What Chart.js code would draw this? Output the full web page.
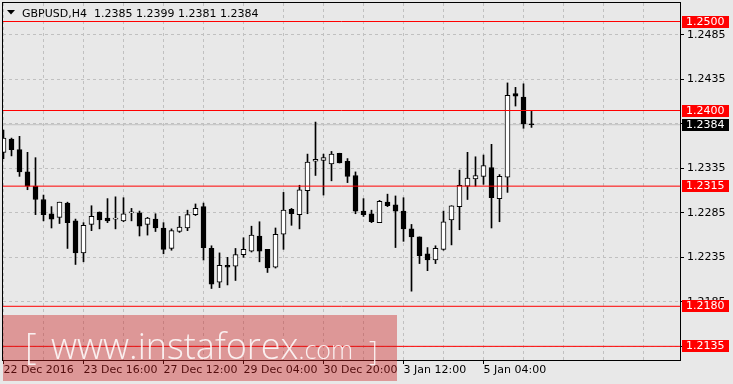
<!DOCTYPE html>
<html>
<head>
<meta charset="utf-8">
<script src="https://cdn.jsdelivr.net/npm/chart.js@4.4.0/dist/chart.umd.min.js"></script>
<style>
  html, body { margin: 0; padding: 0; background: #e8e8e8; }
  #wrap { width: 733px; height: 384px; }
</style>
</head>
<body>
<div id="wrap"><canvas id="chart" width="733" height="384"></canvas></div>
<script>
// GBPUSD H4 candles
const opens = [
  1.2353, 1.2368, 1.2356, 1.2331, 1.2315, 1.2300, 1.2284, 1.2280, 1.2296, 1.2276,
  1.2240, 1.2272, 1.2286, 1.2279, 1.2278, 1.2276, 1.2285, 1.2285, 1.2272, 1.2278,
  1.2268, 1.2245, 1.2264, 1.2268, 1.2283, 1.2292, 1.2245, 1.2207, 1.2226, 1.2225,
  1.2238, 1.2242, 1.2259, 1.2244, 1.2224, 1.2261, 1.2289, 1.2283, 1.2310, 1.2343,
  1.2344, 1.2340, 1.2352, 1.2343, 1.2327, 1.2287, 1.2284, 1.2274, 1.2297, 1.2294,
  1.2287, 1.2267, 1.2258, 1.2239, 1.2232, 1.2244, 1.2277, 1.2292, 1.2315, 1.2323,
  1.2326, 1.2336, 1.2301, 1.2325, 1.2419, 1.2415, 1.2385
];
const highs = [
  1.2378, 1.2369, 1.2371, 1.2353, 1.2347, 1.2305, 1.2292, 1.2297, 1.2297, 1.2278,
  1.2274, 1.2293, 1.2286, 1.2301, 1.2303, 1.2302, 1.2290, 1.2287, 1.2280, 1.2284,
  1.2274, 1.2267, 1.2281, 1.2288, 1.2295, 1.2296, 1.2248, 1.2240, 1.2235, 1.2245,
  1.2257, 1.2270, 1.2275, 1.2244, 1.2268, 1.2308, 1.2290, 1.2316, 1.2351, 1.2387,
  1.2351, 1.2354, 1.2352, 1.2346, 1.2331, 1.2301, 1.2288, 1.2299, 1.2306, 1.2304,
  1.2302, 1.2272, 1.2258, 1.2246, 1.2248, 1.2287, 1.2293, 1.2333, 1.2353, 1.2348,
  1.2350, 1.2362, 1.2328, 1.2431, 1.2426, 1.2430, 1.2399
];
const lows = [
  1.2346, 1.2349, 1.2326, 1.2311, 1.2283, 1.2276, 1.2268, 1.2273, 1.2245, 1.2227,
  1.2230, 1.2265, 1.2267, 1.2274, 1.2267, 1.2275, 1.2276, 1.2259, 1.2260, 1.2264,
  1.2239, 1.2243, 1.2263, 1.2265, 1.2282, 1.2232, 1.2200, 1.2201, 1.2204, 1.2209,
  1.2235, 1.2241, 1.2230, 1.2218, 1.2223, 1.2244, 1.2271, 1.2267, 1.2284, 1.2327,
  1.2305, 1.2321, 1.2341, 1.2319, 1.2284, 1.2281, 1.2274, 1.2274, 1.2292, 1.2246,
  1.2253, 1.2197, 1.2228, 1.2220, 1.2228, 1.2243, 1.2249, 1.2266, 1.2300, 1.2315,
  1.2317, 1.2268, 1.2275, 1.2308, 1.2405, 1.2380, 1.2381
];
const closes = [
  1.2369, 1.2356, 1.2331, 1.2315, 1.2300, 1.2283, 1.2278, 1.2297, 1.2274, 1.2240,
  1.2271, 1.2281, 1.2277, 1.2276, 1.2278, 1.2284, 1.2286, 1.2270, 1.2279, 1.2268,
  1.2244, 1.2265, 1.2269, 1.2283, 1.2290, 1.2246, 1.2205, 1.2226, 1.2224, 1.2238,
  1.2244, 1.2260, 1.2242, 1.2223, 1.2261, 1.2288, 1.2284, 1.2311, 1.2342, 1.2345,
  1.2347, 1.2351, 1.2341, 1.2326, 1.2287, 1.2283, 1.2275, 1.2298, 1.2293, 1.2287,
  1.2267, 1.2258, 1.2237, 1.2232, 1.2245, 1.2275, 1.2293, 1.2316, 1.2324, 1.2327,
  1.2338, 1.2302, 1.2326, 1.2417, 1.2416, 1.2385, 1.2384
];

const timeLabels = ['22 Dec 2016', '23 Dec 16:00', '27 Dec 12:00', '29 Dec 04:00',
                    '30 Dec 20:00', '3 Jan 12:00', '5 Jan 04:00'];
const labelStep = 10;   // one time label every 10 bars
const gridStep = 5;     // vertical grid every 5 bars
const priceTicks = [1.2135, 1.2185, 1.2235, 1.2285, 1.2335, 1.2385, 1.2435, 1.2485];
const levels = [1.2500, 1.2400, 1.2315, 1.2180, 1.2135];
const bidPrice = 1.2384;
const symbol = 'GBPUSD,H4';
const lastBar = [1.2385, 1.2399, 1.2381, 1.2384];

const X_MIN = -0.0625, X_MAX = 84.5625;
const Y_MIN = 1.2119663, Y_MAX = 1.2520787;
const FONT = '"DejaVu Sans", sans-serif';

const idx = opens.map((_, i) => i);
const bodies = idx.map(i => ({ x: i, y: [opens[i], closes[i]] }));
const wicks = idx.map(i => ({ x: i, y: [lows[i], highs[i]] }));
const bodyFill = idx.map(i => closes[i] >= opens[i] ? '#ffffff' : '#000000');
const xGrid = [];
for (let v = 0; v <= 80; v += gridStep) xGrid.push(v);

function hline(value, color, order) {
  return {
    type: 'line', data: [{ x: X_MIN, y: value }, { x: X_MAX, y: value }],
    borderColor: color, borderWidth: 1, pointRadius: 0, fill: false, order: order
  };
}

const datasets = [
  { type: 'bar', data: bodies, backgroundColor: bodyFill, borderColor: '#000000',
    borderWidth: 1, borderSkipped: false, grouped: false, barThickness: 5,
    maxBarThickness: 5, minBarLength: 1, order: 1 },
  { type: 'bar', data: wicks, backgroundColor: '#000000', borderWidth: 0,
    grouped: false, barThickness: 1, maxBarThickness: 1, order: 2 },
  hline(bidPrice, '#c0c0c0', 3)
];
levels.forEach(v => datasets.push(hline(v, '#ff0000', 0)));

const decor = {
  id: 'decor',
  beforeDraw(chart) {
    const ctx = chart.ctx;
    ctx.save();
    ctx.fillStyle = '#e8e8e8';
    ctx.fillRect(0, 0, chart.width, chart.height);
    ctx.restore();
  },
  afterDraw(chart) {
    const { ctx, chartArea: a, scales: { y } } = chart;
    ctx.save();
    // frame
    ctx.strokeStyle = '#000';
    ctx.lineWidth = 1;
    ctx.strokeRect(a.left - 0.5, a.top - 0.5, a.right - a.left + 1, a.bottom - a.top + 1);

    // price labels on the right
    ctx.font = '11px ' + FONT;
    ctx.textBaseline = 'middle';
    ctx.textAlign = 'left';
    const tag = (v, bg) => {
      const py = Math.round(y.getPixelForValue(v));
      ctx.fillStyle = bg;
      ctx.fillRect(a.right + 2, py - 6, 47, 12);
      ctx.fillStyle = '#ffffff';
      ctx.fillText(v.toFixed(4), a.right + 6, py + 0.5);
    };
    levels.forEach(v => tag(v, '#ff0000'));
    tag(bidPrice, '#000000');

    // header
    ctx.fillStyle = '#000';
    ctx.beginPath();
    ctx.moveTo(7, 10); ctx.lineTo(15, 10); ctx.lineTo(11, 14.5); ctx.closePath();
    ctx.fill();
    ctx.textBaseline = 'alphabetic';
    ctx.fillText(symbol + '  ' + lastBar.map(v => v.toFixed(4)).join(' '), 22, 16.5);

    // watermark
    ctx.fillStyle = 'rgba(205,30,30,0.4)';
    ctx.fillRect(3, 315, 394, 66);
    ctx.fillStyle = 'rgba(255,255,255,0.85)';
    ctx.font = '300 36px "Open Sans", sans-serif';
    ctx.fillText('[', 25, 359);
    ctx.fillText('www.instaforex', 51, 359);
    const w = ctx.measureText('www.instaforex').width;
    ctx.font = '300 25px "Open Sans", sans-serif';
    ctx.fillText('.com', 51 + w, 359);
    ctx.font = '300 27px "Open Sans", sans-serif';
    ctx.fillText(']', 369, 361);
    ctx.restore();
  }
};

new Chart(document.getElementById('chart'), {
  type: 'bar',
  data: { datasets: datasets },
  options: {
    responsive: false,
    devicePixelRatio: 1,
    animation: false,
    layout: { padding: { left: 3, top: 3, right: 0, bottom: 0 } },
    plugins: { legend: { display: false }, tooltip: { enabled: false } },
    scales: {
      x: {
        type: 'linear', min: X_MIN, max: X_MAX, offset: false,
        afterBuildTicks: s => { s.ticks = xGrid.map(v => ({ value: v })); },
        afterFit: s => { s.height = 24; s.paddingLeft = 0; s.paddingRight = 0; },
        grid: {
          offset: false, color: '#c0c0c0', tickLength: 4,
          tickColor: c => (c.tick && c.tick.value % labelStep === 0 && c.tick.value / labelStep < timeLabels.length) ? '#000' : 'rgba(0,0,0,0)'
        },
        border: { display: false, dash: [3, 3] },
        ticks: {
          autoSkip: false, maxRotation: 0, align: 'start', padding: 0,
          color: '#000', font: { family: FONT, size: 11 },
          callback: v => (v % labelStep === 0 && timeLabels[v / labelStep]) || ''
        }
      },
      y: {
        type: 'linear', position: 'right', min: Y_MIN, max: Y_MAX,
        beginAtZero: false, stacked: false,
        afterBuildTicks: s => { s.ticks = priceTicks.map(v => ({ value: v })); },
        afterFit: s => { s.width = 53; s.paddingTop = 0; s.paddingBottom = 0; },
        grid: { color: '#c0c0c0', tickLength: 4, tickColor: '#000' },
        border: { display: false, dash: [3, 3] },
        ticks: {
          padding: 3, color: '#000', font: { family: FONT, size: 11 },
          callback: v => Number(v).toFixed(4)
        }
      }
    }
  },
  plugins: [decor]
});
</script>
</body>
</html>
